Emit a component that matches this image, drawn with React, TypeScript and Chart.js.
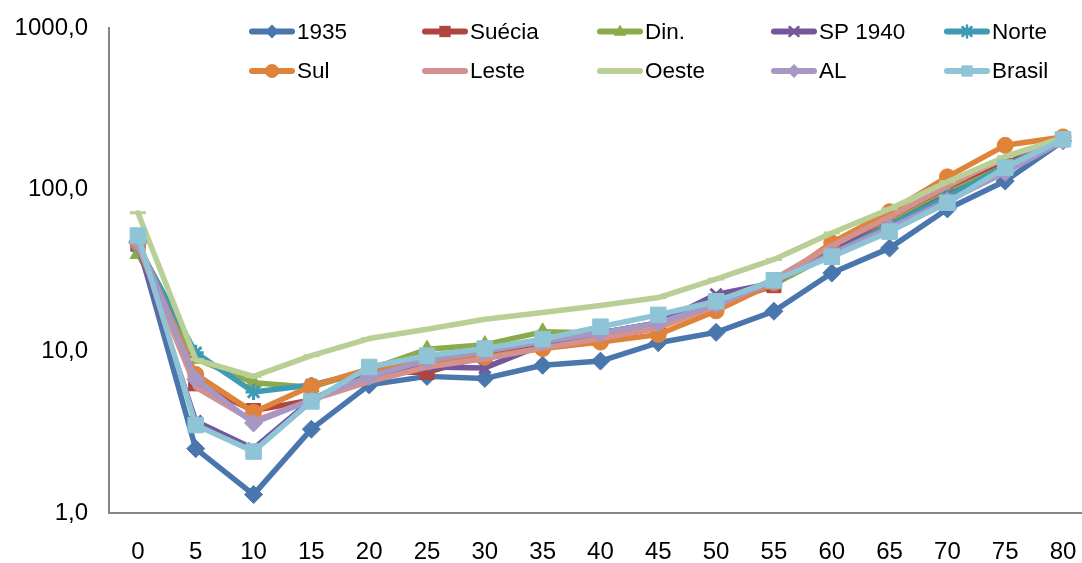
import React, { useEffect, useRef } from "react";
import { Chart, registerables } from "chart.js";

Chart.register(...registerables);

const categories = [0, 5, 10, 15, 20, 25, 30, 35, 40, 45, 50, 55, 60, 65, 70, 75, 80];
const yTicks = [1, 10, 100, 1000];

const s1935 = [47, 2.5, 1.3, 3.3, 6.2, 7.0, 6.8, 8.2, 8.7, 11.3, 13.1, 17.7, 30.5, 43.5, 76, 113, 200];
const sSuecia = [46, 6.3, 4.3, 5.0, 7.5, 7.4, 9.4, 11.0, 12.0, 14.0, 19.5, 25.5, 45, 65, 98, 145, 205];
const sDin = [40, 9.0, 6.4, 6.0, 7.7, 10.3, 11.0, 13.2, 13.0, 15.0, 19.5, 26, 40, 62, 95, 140, 205];
const sSP1940 = [45, 3.7, 2.5, 5.0, 7.0, 8.0, 7.9, 11.0, 13.0, 15.0, 22.5, 26.5, 42, 60, 92, 135, 200];
const sNorte = [45, 9.8, 5.6, 6.2, 7.5, 9.0, 10.0, 11.5, 13.0, 15.0, 19.0, 27, 40, 60, 90, 140, 205];
const sSul = [47, 7.2, 4.2, 6.1, 7.8, 8.6, 9.2, 10.4, 11.4, 12.7, 17.8, 26.5, 47, 73, 120, 188, 212];
const sLeste = [45, 6.0, 3.7, 5.0, 6.5, 8.0, 9.0, 10.5, 12.0, 14.0, 19.0, 28, 45, 68, 105, 160, 205];
const sOeste = [72, 8.9, 7.0, 9.4, 12.0, 13.7, 15.8, 17.4, 19.2, 21.5, 28, 37, 54, 76, 112, 160, 210];
const sAL = [48, 6.7, 3.6, 5.0, 7.0, 8.8, 10.0, 11.5, 13.0, 15.0, 19.5, 27, 40, 58, 85, 128, 200];
const sBrasil = [52, 3.5, 2.4, 4.9, 8.0, 9.4, 10.4, 11.9, 14.2, 16.8, 20.4, 27.5, 38.5, 55, 83, 137, 205];

const seriesNames = ["1935", "Suécia", "Din.", "SP 1940", "Norte", "Sul", "Leste", "Oeste", "AL", "Brasil"];
const seriesValues = [s1935, sSuecia, sDin, sSP1940, sNorte, sSul, sLeste, sOeste, sAL, sBrasil];
const seriesColors = ["#4A76AE", "#AF4441", "#8AAB4C", "#74579A", "#3F9AB3", "#E0833A", "#D39190", "#B8D095", "#A797C4", "#8EC4D6"];
const seriesStyles = ["rectRot", "rect", "triangle", "crossRot", "star", "circle", "line", "line", "rectRot", "rect"];
const seriesRadius = [9, 10, 9, 8, 8, 8, 0, 8, 9, 11];
const legendRadius = [7, 8, 7, 6, 6, 7, 0, 0, 7, 8];

const FONT = '"Liberation Sans", Arial, sans-serif';

function drawMarker(ctx: CanvasRenderingContext2D, style: string, x: number, y: number, r: number, color: string) {
  if (r <= 0) return;
  ctx.save();
  ctx.fillStyle = color;
  ctx.strokeStyle = color;
  ctx.lineWidth = 2.5;
  ctx.beginPath();
  if (style === "rectRot") {
    ctx.moveTo(x, y - r);
    ctx.lineTo(x + r, y);
    ctx.lineTo(x, y + r);
    ctx.lineTo(x - r, y);
    ctx.closePath();
    ctx.fill();
  } else if (style === "rect") {
    const s = r * Math.SQRT1_2;
    ctx.rect(x - s, y - s, 2 * s, 2 * s);
    ctx.fill();
  } else if (style === "triangle") {
    ctx.moveTo(x, y - r);
    ctx.lineTo(x + r * 0.9, y + r * 0.6);
    ctx.lineTo(x - r * 0.9, y + r * 0.6);
    ctx.closePath();
    ctx.fill();
  } else if (style === "circle") {
    ctx.arc(x, y, r, 0, Math.PI * 2);
    ctx.fill();
  } else if (style === "crossRot") {
    const s = r * 0.75;
    ctx.moveTo(x - s, y - s);
    ctx.lineTo(x + s, y + s);
    ctx.moveTo(x + s, y - s);
    ctx.lineTo(x - s, y + s);
    ctx.stroke();
  } else if (style === "star") {
    const s = r * 0.75;
    ctx.moveTo(x - s, y - s);
    ctx.lineTo(x + s, y + s);
    ctx.moveTo(x + s, y - s);
    ctx.lineTo(x - s, y + s);
    ctx.moveTo(x, y - r);
    ctx.lineTo(x, y + r);
    ctx.stroke();
  }
  ctx.restore();
}

const legendPlugin = {
  id: "customLegend",
  afterDraw(chart: any) {
    const ctx: CanvasRenderingContext2D = chart.ctx;
    const colX = [250, 423, 598, 772, 945];
    const rowY = [31.5, 71];
    ctx.save();
    seriesNames.forEach((name, i) => {
      const col = i % 5;
      const row = Math.floor(i / 5);
      const x0 = colX[col];
      const y0 = rowY[row];
      ctx.strokeStyle = seriesColors[i];
      ctx.lineWidth = 6;
      ctx.lineCap = "round";
      ctx.beginPath();
      ctx.moveTo(x0 + 2, y0);
      ctx.lineTo(x0 + 42, y0);
      ctx.stroke();
      drawMarker(ctx, seriesStyles[i], x0 + 22, y0, legendRadius[i], seriesColors[i]);
      ctx.fillStyle = "#000";
      ctx.font = `22.5px ${FONT}`;
      ctx.textAlign = "left";
      ctx.textBaseline = "middle";
      ctx.fillText(name, x0 + 47, y0 + 1);
    });
    ctx.restore();
  },
};

export default function App() {
  const ref = useRef<HTMLCanvasElement>(null);

  useEffect(() => {
    if (!ref.current) return;
    const datasets = seriesNames.map((name, i) => ({
      label: name,
      data: seriesValues[i].map((v, j) => ({ x: categories[j], y: v })),
      borderColor: seriesColors[i],
      backgroundColor: seriesColors[i],
      borderWidth: 5.5,
      borderJoinStyle: "round" as const,
      borderCapStyle: "round" as const,
      pointStyle: seriesStyles[i],
      pointRadius: seriesRadius[i],
      pointBorderWidth: seriesStyles[i] === "crossRot" || seriesStyles[i] === "star" || seriesStyles[i] === "line" ? 3 : 1,
      pointBorderColor: seriesColors[i],
      pointBackgroundColor: seriesColors[i],
      tension: 0,
      clip: false as const,
      order: 10 - i,
    }));

    const chart = new Chart(ref.current, {
      type: "line",
      data: { datasets },
      options: {
        animation: false,
        responsive: false,
        layout: { autoPadding: false, padding: { top: 28, left: 0, right: 0, bottom: 0 } },
        plugins: { legend: { display: false }, tooltip: { enabled: false } },
        scales: {
          x: {
            type: "linear",
            min: -2.5,
            max: 81.64,
            grid: { display: false, drawTicks: true, tickLength: 25 },
            border: { display: true, color: "#868686", width: 2 },
            afterBuildTicks: (axis: any) => {
              axis.ticks = categories.map((v) => ({ value: v }));
            },
            afterFit: (axis: any) => {
              axis.height = 50;
              axis.paddingLeft = 0;
              axis.paddingRight = 0;
            },
            ticks: {
              color: "#000",
              padding: 0,
              maxRotation: 0,
              autoSkip: false,
              font: { family: FONT, size: 24 },
              callback: (v: any) => String(v),
            },
          },
          y: {
            type: "logarithmic",
            min: 1,
            max: 1000,
            grid: { display: false, drawTicks: false },
            border: { display: true, color: "#868686", width: 2 },
            afterBuildTicks: (axis: any) => {
              axis.ticks = yTicks.map((v) => ({ value: v }));
            },
            afterFit: (axis: any) => {
              axis.width = 109;
              axis.paddingTop = 0;
              axis.paddingBottom = 0;
            },
            ticks: {
              color: "#000",
              padding: 21,
              autoSkip: false,
              font: { family: FONT, size: 24 },
              callback: (v: any) => Number(v).toFixed(1).replace(".", ","),
            },
          },
        },
      },
      plugins: [legendPlugin],
    });
    return () => chart.destroy();
  }, []);

  return (
    <div style={{ position: "fixed", left: 0, top: 0, width: 1082, height: 563, background: "#fff" }}>
      <canvas ref={ref} width={1082} height={563} style={{ display: "block" }} />
    </div>
  );
}
